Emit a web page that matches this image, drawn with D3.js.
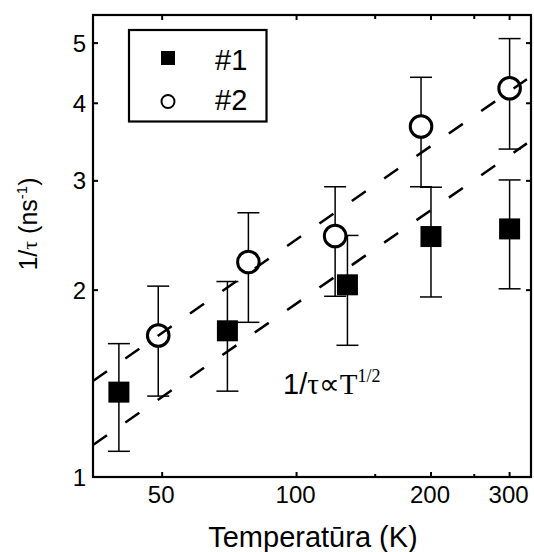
<!DOCTYPE html>
<html>
<head>
<meta charset="utf-8">
<script src="https://cdn.jsdelivr.net/npm/d3@7"></script>
<style>
  html, body { margin: 0; padding: 0; background: #fff; }
  svg { display: block; }
  text { font-family: "Liberation Sans", Arial, sans-serif; fill: #000; }
</style>
</head>
<body>
<svg id="chart" width="534" height="552"></svg>
<script>
// Temperature (K) for each sample series
const tempS1 = [40, 70, 130, 200, 300];
const tempS2 = [49, 78, 122, 190, 300];
// 1/tau (ns^-1) and its error
const rateS1 = [1.37, 1.72, 2.04, 2.44, 2.51];
const errS1  = [0.27, 0.345, 0.41, 0.49, 0.50];
const rateS2 = [1.69, 2.22, 2.445, 3.67, 4.23];
const errS2  = [0.34, 0.445, 0.49, 0.735, 0.855];
// Dashed T^(1/2) guide lines: [T, 1/tau] endpoints
const guideLow  = [[35, 1.126], [328, 3.447]];
const guideHigh = [[35, 1.428], [328, 4.372]];
// Axis ticks
const xTicks = [50, 100, 200, 300];
const xMinorTicks = [150, 250];
const yTicks = [1, 2, 3, 4, 5];
const seriesNames = ["#1", "#2"];

const svg = d3.select("#chart");
const plotL = 93, plotR = 531, plotT = 15, plotB = 477;
const serif = "'Liberation Serif', 'Times New Roman', serif";

const x = d3.scaleLog().domain([35, 335]).range([plotL, plotR]);
const y = d3.scaleLog().domain([1, 5.55]).range([plotB, plotT]);

// Error bars
function errorBars(temps, rates, errs) {
  const g = svg.append("g").attr("stroke", "#000").attr("stroke-width", 1.5);
  temps.forEach((t, i) => {
    const cx = x(t), hi = y(rates[i] + errs[i]), lo = y(rates[i] - errs[i]);
    g.append("line").attr("x1", cx).attr("x2", cx).attr("y1", hi).attr("y2", lo);
    g.append("line").attr("x1", cx - 11).attr("x2", cx + 11).attr("y1", hi).attr("y2", hi);
    g.append("line").attr("x1", cx - 11).attr("x2", cx + 11).attr("y1", lo).attr("y2", lo);
  });
}
errorBars(tempS1, rateS1, errS1);
errorBars(tempS2, rateS2, errS2);

// Markers
svg.append("g").selectAll("rect").data(tempS1).join("rect")
  .attr("x", (d) => x(d) - 10.5)
  .attr("y", (d, i) => y(rateS1[i]) - 10.5)
  .attr("width", 21).attr("height", 21)
  .attr("fill", "#000");

svg.append("g").selectAll("circle").data(tempS2).join("circle")
  .attr("cx", (d) => x(d))
  .attr("cy", (d, i) => y(rateS2[i]))
  .attr("r", 10.8)
  .attr("fill", "#fff").attr("stroke", "#000").attr("stroke-width", 3);

// Dashed guide lines
const line = d3.line().x((d) => x(d[0])).y((d) => y(d[1]));
[guideLow, guideHigh].forEach((g) => {
  svg.append("path").datum(g).attr("d", line)
    .attr("fill", "none").attr("stroke", "#000").attr("stroke-width", 2.5)
    .attr("stroke-dasharray", "17,22.4");
});

// Frame
svg.append("rect").attr("x", plotL).attr("y", plotT)
  .attr("width", plotR - plotL).attr("height", plotB - plotT)
  .attr("fill", "none").attr("stroke", "#000").attr("stroke-width", 2.2);

// Ticks (inward on all four sides)
const tk = svg.append("g").attr("stroke", "#000").attr("stroke-width", 2);
xTicks.forEach((t) => {
  tk.append("line").attr("x1", x(t)).attr("x2", x(t)).attr("y1", plotB).attr("y2", plotB - 5);
  tk.append("line").attr("x1", x(t)).attr("x2", x(t)).attr("y1", plotT).attr("y2", plotT + 5);
});
xMinorTicks.forEach((t) => {
  tk.append("line").attr("x1", x(t)).attr("x2", x(t)).attr("y1", plotB).attr("y2", plotB - 3);
  tk.append("line").attr("x1", x(t)).attr("x2", x(t)).attr("y1", plotT).attr("y2", plotT + 4);
});
yTicks.forEach((v) => {
  tk.append("line").attr("x1", plotL).attr("x2", plotL + 5).attr("y1", y(v)).attr("y2", y(v));
  tk.append("line").attr("x1", plotR).attr("x2", plotR - 5).attr("y1", y(v)).attr("y2", y(v));
});

// Tick labels
svg.append("g").selectAll("text").data(xTicks).join("text")
  .attr("x", (d) => x(d) - 1).attr("y", 503)
  .attr("text-anchor", "middle").attr("font-size", 24)
  .text((d) => d);

svg.append("g").selectAll("text").data(yTicks).join("text")
  .attr("x", 86).attr("y", (d) => y(d) + 8.5)
  .attr("text-anchor", "end").attr("font-size", 24)
  .text((d) => d);

// Axis titles
svg.append("text").attr("x", 313).attr("y", 547)
  .attr("text-anchor", "middle").attr("font-size", 29)
  .text("Temperatūra (K)");

const yl = svg.append("text")
  .attr("transform", "translate(37,224) rotate(-90)")
  .attr("text-anchor", "middle").attr("font-size", 25);
yl.append("tspan").text("1/");
yl.append("tspan").style("font-family", serif).attr("font-size", 22).text("τ");
yl.append("tspan").text(" (ns");
yl.append("tspan").attr("font-size", 15).attr("dy", -10).text("-1");
yl.append("tspan").attr("dy", 10).text(")");

// Annotation
const ann = svg.append("text").attr("x", 283).attr("y", 394).attr("font-size", 29);
ann.append("tspan").text("1/");
ann.append("tspan").style("font-family", serif).text("τ∝T");
ann.append("tspan").style("font-family", serif).attr("font-size", 18).attr("dy", -12).text("1/2");

// Legend
svg.append("rect").attr("x", 129).attr("y", 30).attr("width", 137.5).attr("height", 91.5)
  .attr("fill", "#fff").attr("stroke", "#000").attr("stroke-width", 2.2);
svg.append("rect").attr("x", 161).attr("y", 51).attr("width", 14).attr("height", 14).attr("fill", "#000");
svg.append("circle").attr("cx", 168).attr("cy", 101.5).attr("r", 6.5)
  .attr("fill", "#fff").attr("stroke", "#000").attr("stroke-width", 2);
svg.append("g").selectAll("text").data(seriesNames).join("text")
  .attr("x", 215).attr("y", (d, i) => i === 0 ? 70 : 109.5)
  .attr("font-size", 29)
  .text((d) => d);
</script>
</body>
</html>
